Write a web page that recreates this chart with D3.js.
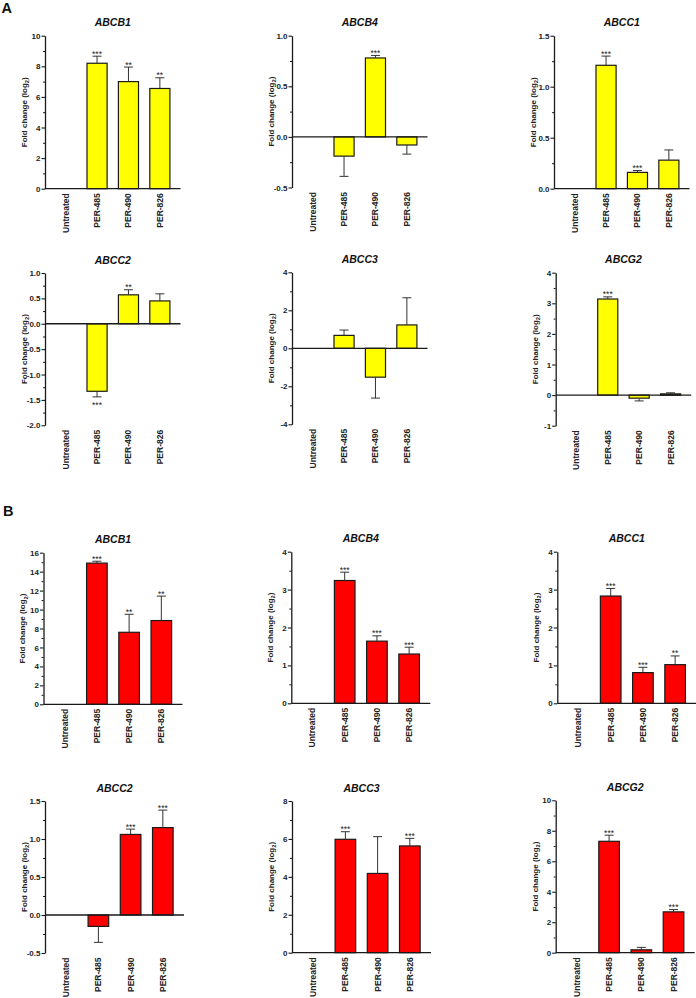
<!DOCTYPE html>
<html><head><meta charset="utf-8">
<script src="https://cdn.jsdelivr.net/npm/d3@7"></script>
<style>
body{margin:0;background:#fff}
svg{display:block}
text{font-family:"Liberation Sans",Arial,Helvetica,sans-serif}
</style>
</head><body>
<svg id="c" width="696" height="998"></svg>
<script>
// ---------- DATA ----------
const categories = ["Untreated", "PER-485", "PER-490", "PER-826"];
const genes = ["ABCB1", "ABCB4", "ABCC1", "ABCC2", "ABCC3", "ABCG2"];

// Panel A (yellow)
const valuesA = [
  [0, 8.2, 7.0, 6.55],
  [0, -0.19, 0.78, -0.08],
  [0, 1.21, 0.16, 0.28],
  [0, -1.33, 0.57, 0.45],
  [0, 0.68, -1.52, 1.23],
  [0, 3.14, -0.10, 0.04]
];
const errorsA = [
  [0, 0.46, 0.95, 0.70],
  [0, 0.20, 0.025, 0.09],
  [0, 0.09, 0.018, 0.10],
  [0, 0.11, 0.10, 0.14],
  [0, 0.28, 1.10, 1.43],
  [0, 0.07, 0.09, 0.035]
];
const starsA = [
  ["", "***", "**", "**"],
  ["", "", "***", ""],
  ["", "***", "***", ""],
  ["", "***", "**", ""],
  ["", "", "", ""],
  ["", "***", "", ""]
];
const domainsA = [[0, 10], [-0.5, 1], [0, 1.5], [-2, 1], [-4, 4], [-1, 4]];
const majorStepA = [2, 0.5, 0.5, 0.5, 2, 1];
const minorStepA = [1, 0.25, 0.25, 0.25, 1, 0.5];

// Panel B (red)
const valuesB = [
  [0, 14.9, 7.6, 8.84],
  [0, 3.24, 1.64, 1.30],
  [0, 2.83, 0.81, 1.02],
  [0, -0.15, 1.06, 1.15],
  [0, 5.98, 4.18, 5.63],
  [0, 7.31, 0.19, 2.68]
];
const errorsB = [
  [0, 0.20, 1.90, 2.58],
  [0, 0.22, 0.14, 0.18],
  [0, 0.20, 0.14, 0.23],
  [0, 0.21, 0.07, 0.23],
  [0, 0.40, 1.94, 0.40],
  [0, 0.40, 0.16, 0.15]
];
const starsB = [
  ["", "***", "**", "**"],
  ["", "***", "***", "***"],
  ["", "***", "***", "**"],
  ["", "", "***", "***"],
  ["", "***", "", "***"],
  ["", "***", "", "***"]
];
const domainsB = [[0, 16], [0, 4], [0, 4], [-0.5, 1.5], [0, 8], [0, 10]];
const majorStepB = [2, 1, 1, 0.5, 2, 2];
const minorStepB = [1, 0.5, 0.5, 0.25, 1, 1];

// ---------- LAYOUT ----------
const layoutA = [
  {x: 45, top: 35.7, bottom: 188.7}, {x: 292, top: 35.7, bottom: 187.5}, {x: 554, top: 35.7, bottom: 188.7},
  {x: 45, top: 273, bottom: 425.3}, {x: 292, top: 272.3, bottom: 424.3}, {x: 555.7, top: 272.7, bottom: 425.7}
];
const layoutB = [
  {x: 43.5, top: 552.7, bottom: 704.3}, {x: 291.3, top: 551.7, bottom: 703.3}, {x: 557.3, top: 551.7, bottom: 703.3},
  {x: 45, top: 801, bottom: 953}, {x: 292, top: 801, bottom: 952.7}, {x: 555.7, top: 800.3, bottom: 952.7}
];

const svg = d3.select("#c");
const ink = "#1a1a1a";

function ticksFor(domain, step) {
  const n = Math.round((domain[1] - domain[0]) / step);
  return d3.range(n + 1).map(i => Math.round((domain[0] + i * step) * 10000) / 10000);
}

function panel(L, width, gene, vals, errs, stars, domain, majStep, minStep, color, showXTicks) {
  const g = svg.append("g");
  const x = d3.scaleBand().domain(categories).range([L.x, L.x + width])
    .paddingInner(0.36).paddingOuter(0.337);
  const y = d3.scaleLinear().domain(domain).range([L.bottom, L.top]);
  const dec = majStep < 1;
  const fmt = v => dec ? v.toFixed(1) : String(v);

  // title
  g.append("text").attr("x", L.x + width / 2).attr("y", L.top - 9.5)
    .attr("text-anchor", "middle").attr("font-size", 10.5)
    .attr("font-weight", "bold").attr("font-style", "italic").attr("fill", "#111").text(gene);

  // y-axis minor ticks
  const minor = ticksFor(domain, minStep).filter(v => !ticksFor(domain, majStep).some(m => Math.abs(m - v) < 1e-6));
  const minAx = g.append("g").attr("transform", `translate(${L.x},0)`)
    .call(d3.axisLeft(y).tickValues(minor).tickSize(2).tickFormat(""));
  minAx.select(".domain").remove();
  minAx.selectAll("line").attr("stroke", ink).attr("stroke-width", 1);

  // y-axis major
  const ax = g.append("g").attr("transform", `translate(${L.x},0)`)
    .call(d3.axisLeft(y).tickValues(ticksFor(domain, majStep)).tickSize(3.5).tickSizeOuter(0).tickPadding(1).tickFormat(fmt));
  ax.select(".domain").attr("stroke", ink).attr("stroke-width", 1.3);
  ax.selectAll("line").attr("stroke", ink).attr("stroke-width", 1.1);
  ax.selectAll("text").attr("font-size", 8).attr("font-weight", "bold")
    .attr("fill", "#222").attr("font-family", '"Liberation Sans",Arial,sans-serif');

  // y label
  const yl = g.append("text")
    .attr("transform", `translate(${L.x - 21},${(L.top + L.bottom) / 2}) rotate(-90)`)
    .attr("text-anchor", "middle").attr("dy", "0.35em")
    .attr("font-size", 8).attr("font-weight", "bold").attr("fill", "#222");
  yl.append("tspan").text("Fold change (log");
  yl.append("tspan").attr("font-size", 5.8).attr("dy", "2.2").text("2");
  yl.append("tspan").attr("dy", "-2.2").text(")");

  const y0 = y(0);
  // bars
  g.selectAll("rect.bar").data(categories).join("rect")
    .attr("x", c => x(c))
    .attr("width", x.bandwidth())
    .attr("y", (c, i) => Math.min(y(vals[i]), y0))
    .attr("height", (c, i) => Math.abs(y(vals[i]) - y0))
    .attr("fill", color).attr("stroke", ink).attr("stroke-width", 1.2)
    .attr("opacity", (c, i) => vals[i] === 0 ? 0 : 1);

  // error bars
  categories.forEach((c, i) => {
    if (errs[i] === 0) return;
    const cx = x(c) + x.bandwidth() / 2;
    const sgn = vals[i] >= 0 ? 1 : -1;
    const yv = y(vals[i]);
    const ye = y(vals[i] + sgn * errs[i]);
    g.append("line").attr("x1", cx).attr("x2", cx).attr("y1", yv).attr("y2", ye)
      .attr("stroke", "#333").attr("stroke-width", 1);
    g.append("line").attr("x1", cx - 4.5).attr("x2", cx + 4.5).attr("y1", ye).attr("y2", ye)
      .attr("stroke", "#333").attr("stroke-width", 1);
    if (stars[i]) {
      g.append("text").attr("x", cx).attr("y", sgn > 0 ? ye + 0.5 : ye + 11)
        .attr("text-anchor", "middle").attr("font-size", 8.5).attr("fill", "#222").text(stars[i]);
    }
  });

  // x axis line at zero
  g.append("line").attr("x1", L.x).attr("x2", L.x + width).attr("y1", y0).attr("y2", y0)
    .attr("stroke", ink).attr("stroke-width", 1.3);

  // category labels under the plot
  categories.forEach(c => {
    const cx = x(c) + x.bandwidth() / 2;
    if (showXTicks && domain[0] === 0) {
      g.append("line").attr("x1", cx).attr("x2", cx).attr("y1", L.bottom).attr("y2", L.bottom + 3)
        .attr("stroke", ink).attr("stroke-width", 1);
    }
    g.append("text")
      .attr("transform", `translate(${cx},${L.bottom + 4.5}) rotate(-90)`)
      .attr("text-anchor", "end").attr("dy", "0.35em")
      .attr("font-size", 8.5).attr("font-weight", "bold").attr("fill", "#222").text(c);
  });
}

genes.forEach((gname, i) => {
  panel(layoutA[i], 135.5, gname, valuesA[i], errorsA[i], starsA[i], domainsA[i], majorStepA[i], minorStepA[i], "#ffff00", false);
  panel(layoutB[i], 139, gname, valuesB[i], errorsB[i], starsB[i], domainsB[i], majorStepB[i], minorStepB[i], "#ff0000", false);
});

svg.append("text").attr("x", 1.5).attr("y", 12.5).attr("font-size", 14.5).attr("font-weight", "bold").attr("fill", "#111").text("A");
svg.append("text").attr("x", 3).attr("y", 515.5).attr("font-size", 14.5).attr("font-weight", "bold").attr("fill", "#111").text("B");
</script>
</body></html>
